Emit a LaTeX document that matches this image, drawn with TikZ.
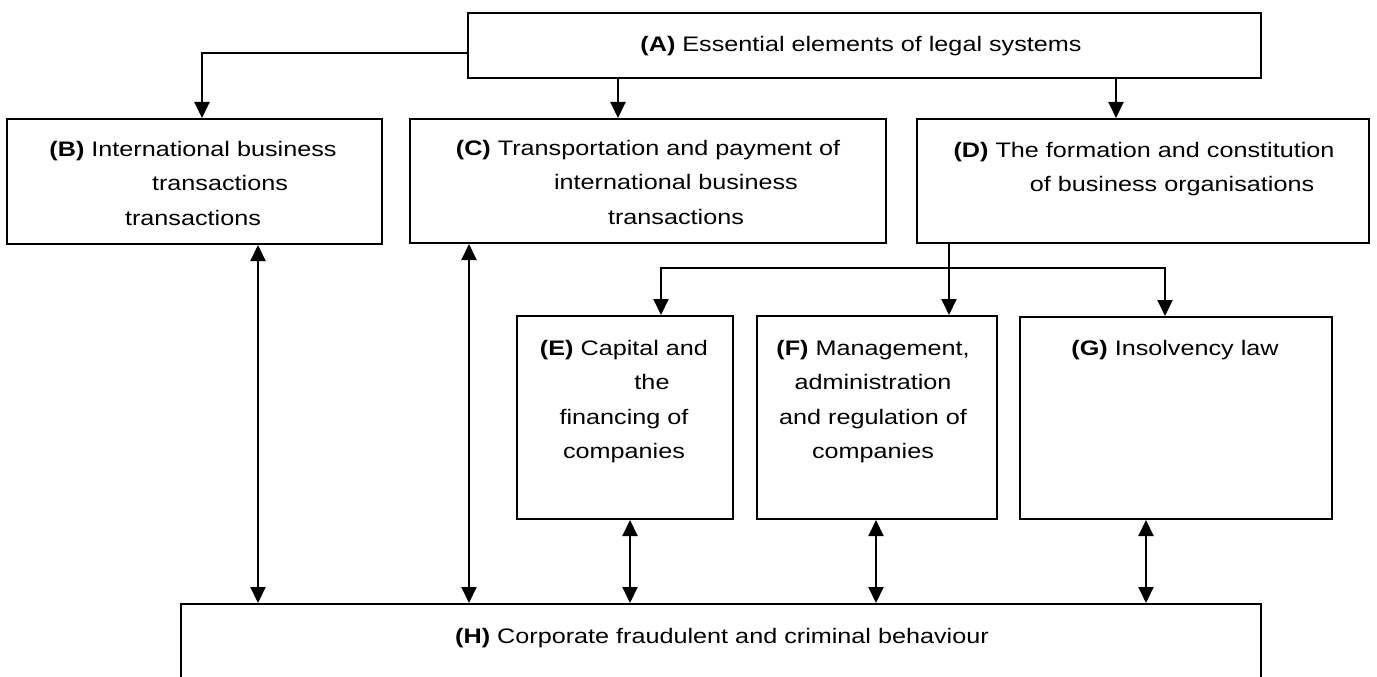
\documentclass[tikz,border=0pt]{standalone}
\usepackage{fontspec}
\setmainfont[FakeStretch=1.2]{Liberation Sans}
\usetikzlibrary{arrows.meta}

\begin{document}
\begin{tikzpicture}[x=1pt, y=-1pt, line width=2pt,
    box/.style = {draw, rectangle, inner sep=0pt},
    txt/.style = {align=center, anchor=base, inner sep=0pt, font=\fontsize{21}{34.5}\selectfont},
    arr/.style = {-{Triangle[length=16pt,width=15pt]}},
    darr/.style = {{Triangle[length=16pt,width=15pt]}-{Triangle[length=16pt,width=15pt]}}]
    \clip (0,0) rectangle (1377,677);
    % boxes
    \node[box, minimum width=793, minimum height=65] (A) at (864.5,45.5) {};
    \node[box, minimum width=375, minimum height=125] (B) at (194.5,181.5) {};
    \node[box, minimum width=476, minimum height=124] (C) at (648,181) {};
    \node[box, minimum width=452, minimum height=124] (D) at (1143,181) {};
    \node[box, minimum width=216, minimum height=203] (E) at (625,417.5) {};
    \node[box, minimum width=240, minimum height=203] (F) at (877,417.5) {};
    \node[box, minimum width=312, minimum height=202] (G) at (1176,418) {};
    \node[box, minimum width=1080, minimum height=140] (H) at (721,674) {};
    % texts (anchored at the baseline of their last line)
    \node[txt] (At) at (861,52) {\textbf{(A)} Essential elements of legal systems};
    \node[txt] (Bt) at (193,225) {\textbf{(B)} International business\\\hspace*{54pt}transactions\\transactions};
    \node[txt] (Ct) at (648,224) {\textbf{(C)} Transportation and payment of\\\hspace*{56pt}international business\\\hspace*{56pt}transactions};
    \node[txt] (Dt) at (1144,191.5) {\textbf{(D)} The formation and constitution\\\hspace*{56pt}of business organisations};
    \node[txt] (Et) at (624,458.5) {\textbf{(E)} Capital and\\\hspace*{56pt}the\\financing of\\companies};
    \node[txt] (Ft) at (873,458.5) {\textbf{(F)} Management,\\administration\\and regulation of\\companies};
    \node[txt] (Gt) at (1175,355) {\textbf{(G)} Insolvency law};
    \node[txt] (Ht) at (722,643) {\textbf{(H)} Corporate fraudulent and criminal behaviour};
    % from A
    \draw[arr] (A.west |- 0,53) -| (B.north -| 202,0);
    \draw[arr] (A.south -| 618,0) -- (C.north -| 618,0);
    \draw[arr] (A.south -| 1116,0) -- (D.north -| 1116,0);
    % from D
    \coordinate (split) at (949,268);
    \draw[arr] (D.south -| split) -- (F.north -| split);
    \draw[arr] (split) -| (E.north -| 661,0);
    \draw[arr] (split) -| (G.north -| 1165,0);
    % to H
    \draw[darr] (B.south -| 258,0) -- (H.north -| 258,0);
    \draw[darr] (C.south -| 469,0) -- (H.north -| 469,0);
    \draw[darr] (E.south -| 630,0) -- (H.north -| 630,0);
    \draw[darr] (F.south -| 876,0) -- (H.north -| 876,0);
    \draw[darr] (G.south -| 1146,0) -- (H.north -| 1146,0);
\end{tikzpicture}
\end{document}
